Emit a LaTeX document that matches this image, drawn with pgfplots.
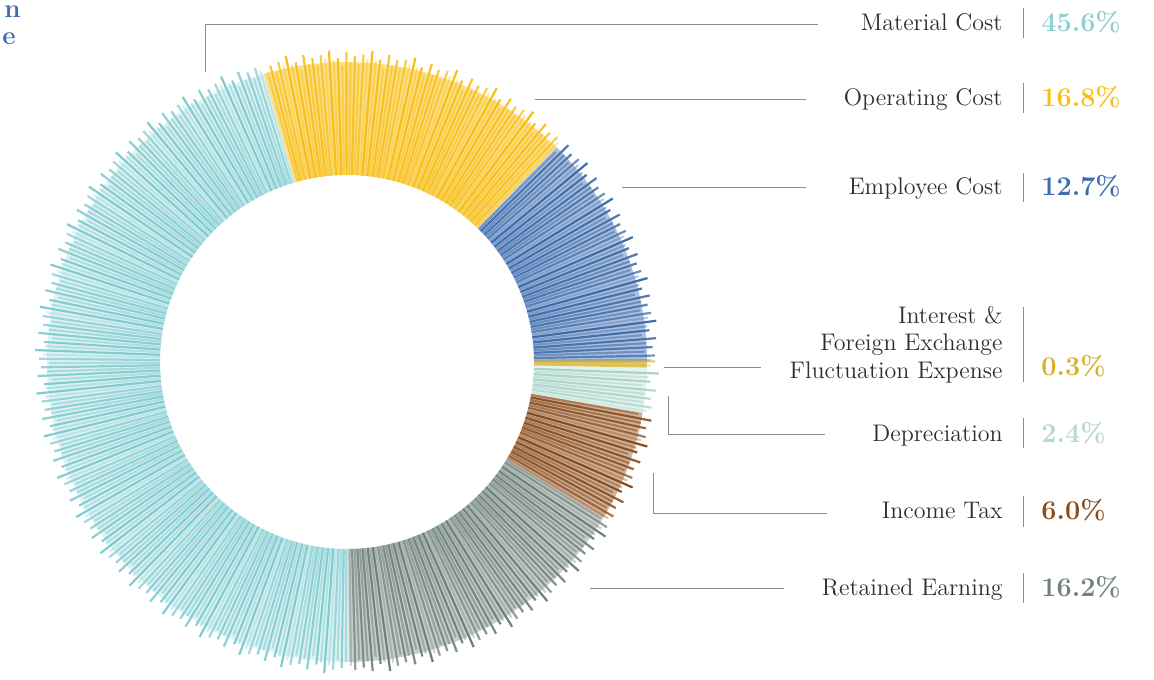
\documentclass[border=0pt]{standalone}
\usepackage{pgfplots}
\usepackage{pgfplotstable}
\pgfplotsset{compat=1.18}
\usetikzlibrary{calc}
\definecolor{cTeal}{HTML}{7FCCD0}
\definecolor{cTealT}{HTML}{8ECFD3}
\definecolor{cYellow}{HTML}{F8BE14}
\definecolor{cBlue}{HTML}{3D6CAD}
\definecolor{cGold}{HTML}{D6B02A}
\definecolor{cMint}{HTML}{A9D5C6}
\definecolor{cMintT}{HTML}{B4D8CB}
\definecolor{cBrown}{HTML}{8A4B1B}
\definecolor{cGray}{HTML}{6F817C}
\definecolor{cText}{HTML}{2E2E2E}
\definecolor{cLine}{HTML}{8C8C8C}

% shares, counter-clockwise from 0 degrees (3 o'clock)
\pgfplotstableread{
name pct
Employee 12.7
Operating 16.8
Material 45.6
Retained 16.2
IncomeTax 6.0
Depreciation 2.4
Interest 0.3
}\shares

\tikzset{lab/.style={anchor=base east, text=cText, font=\fontsize{12}{13.75}\selectfont, inner sep=0pt},
  pct/.style={anchor=base west, font=\bfseries\fontsize{13.5}{13.5}\selectfont, inner sep=0pt}}

\begin{document}
\begin{tikzpicture}
\begin{axis}[width=577pt, height=339.5pt, scale only axis,
  xmin=0, xmax=1154, ymin=0, ymax=679, y dir=reverse,
  hide axis, clip=false]
\coordinate (C) at (axis cs:347,362);
\coordinate (BL) at (axis cs:0,679);
\coordinate (TR) at (axis cs:1154,0);
% leader lines
\addplot[cLine, line width=0.5pt] coordinates {(205,72) (205,25) (818,25)};
\addplot[cLine, line width=0.5pt] coordinates {(535,100) (806,100)};
\addplot[cLine, line width=0.5pt] coordinates {(622,188) (806,188)};
\addplot[cLine, line width=0.5pt] coordinates {(664,367) (761,367)};
\addplot[cLine, line width=0.5pt] coordinates {(668,396) (668,434) (825,434)};
\addplot[cLine, line width=0.5pt] coordinates {(653,473) (653,513) (827,513)};
\addplot[cLine, line width=0.5pt] coordinates {(590,588) (784,588)};
% separators
\addplot[cLine, line width=0.5pt] coordinates {(1023,8) (1023,38)};
\addplot[cLine, line width=0.5pt] coordinates {(1023,83) (1023,113)};
\addplot[cLine, line width=0.5pt] coordinates {(1023,173) (1023,202)};
\addplot[cLine, line width=0.5pt] coordinates {(1023,307) (1023,382)};
\addplot[cLine, line width=0.5pt] coordinates {(1023,418) (1023,448)};
\addplot[cLine, line width=0.5pt] coordinates {(1023,496) (1023,527)};
\addplot[cLine, line width=0.5pt] coordinates {(1023,573) (1023,603)};
% labels
\node[lab] at (axis cs:1003,31) {Material Cost};
\node[lab] at (axis cs:1003,106) {Operating Cost};
\node[lab] at (axis cs:1003,194) {Employee Cost};
\node[lab] at (axis cs:1003,323) {Interest \&};
\node[lab] at (axis cs:1003,350) {Foreign Exchange};
\node[lab] at (axis cs:1003,378) {Fluctuation Expense};
\node[lab] at (axis cs:1003,441) {Depreciation};
\node[lab] at (axis cs:1003,518) {Income Tax};
\node[lab] at (axis cs:1003,595) {Retained Earning};
% percentages
\node[pct, text=cTealT] at (axis cs:1041,32) {45.6\%};
\node[pct, text=cYellow] at (axis cs:1041,107) {16.8\%};
\node[pct, text=cBlue] at (axis cs:1041,196) {12.7\%};
\node[pct, text=cGold] at (axis cs:1041,375) {0.3\%};
\node[pct, text=cMintT] at (axis cs:1041,442) {2.4\%};
\node[pct, text=cBrown] at (axis cs:1041,519) {6.0\%};
\node[pct, text=cGray] at (axis cs:1041,596) {16.2\%};
% cut title
\node[anchor=base east, inner sep=0pt, text=cBlue, font=\bfseries\fontsize{13}{13}\selectfont] at (axis cs:21,18) {n};
\node[anchor=base east, inner sep=0pt, text=cBlue, font=\bfseries\fontsize{13}{13}\selectfont] at (axis cs:16,45) {e};
\end{axis}
% donut from the shares
\gdef\cum{0}
\foreach \i/\col/\base in {0/cBlue/42,1/cYellow/50,2/cTeal/25,3/cGray/38,4/cBrown/42,5/cMint/30,6/cGold/70}{
  \pgfplotstablegetelem{\i}{pct}\of\shares
  \let\p\pgfplotsretval
  \pgfmathsetmacro\aS{\cum*3.6}
  \pgfmathsetmacro\aE{(\cum+\p)*3.6}
  \pgfmathsetmacro\nc{\cum+\p}
  \xdef\cum{\nc}
  \fill[\col!\base] ($(C)+(\aS:93.5pt)$) arc[start angle=\aS, end angle=\aE, radius=93.5pt]
     -- ($(C)+(\aE:150pt)$) arc[start angle=\aE, end angle=\aS, radius=150pt] -- cycle;
  \pgfmathsetmacro\tA{\aS+0.4}
  \pgfmathsetmacro\tB{\aS+1.2}
  \pgfmathsetmacro\tZ{\aE-0.3}
  \foreach \t [count=\k] in {\tA,\tB,...,\tZ}{
    \pgfmathsetmacro\ro{156-{0,4,2,7,3,6,1,8,4,5}[mod(\k,10)]}
    \pgfmathsetmacro\op{{1,0.5,0.85,0.35,0.95,0.6,0.75,0.45,0.9,0.55}[mod(\k*3,10)]}
    \draw[\col, line width=1.1pt, opacity=\op] ($(C)+(\t:93.5pt)$) -- ($(C)+(\t:\ro pt)$);
  }
}
\pgfresetboundingbox
\useasboundingbox (BL) rectangle (TR);
\end{tikzpicture}
\end{document}
